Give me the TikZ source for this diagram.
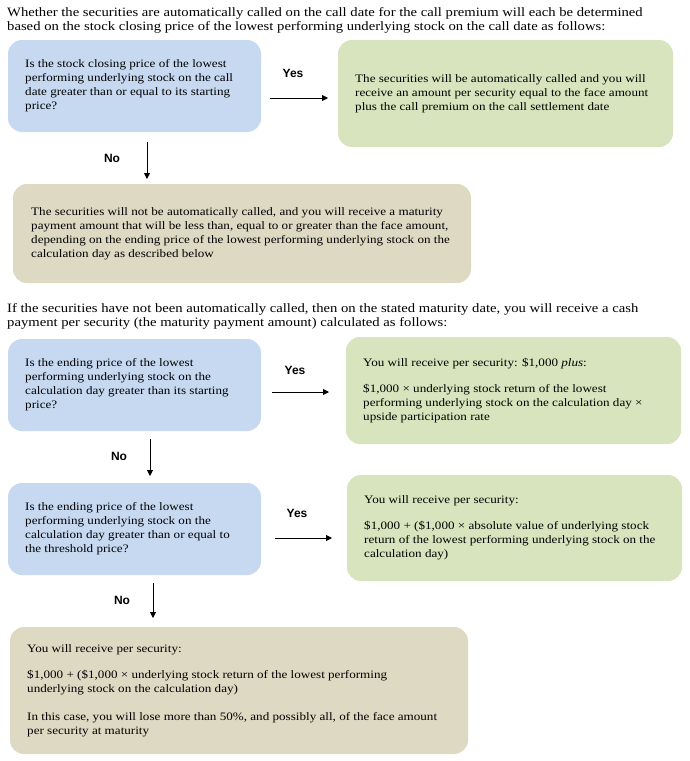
\documentclass[tikz,border=0pt]{standalone}
\usepackage{fontspec}
\setmainfont{Liberation Serif}[FakeStretch=1.15]
\newfontfamily\labelfont{Liberation Sans}
\usetikzlibrary{arrows.meta}
\definecolor{qblue}{RGB}{198,217,241}
\definecolor{agreen}{RGB}{215,228,189}
\definecolor{rtan}{RGB}{221,217,195}
\begin{document}
\begin{tikzpicture}[x=1pt,y=-1pt,
  boxbase/.style={rectangle, rounded corners=14pt, inner sep=0pt, outer sep=0pt, anchor=north west},
  qbox/.style={boxbase, fill=qblue},
  abox/.style={boxbase, fill=agreen},
  rbox/.style={boxbase, fill=rtan},
  boxtext/.style={anchor=west, inner sep=0pt, align=left, font=\fontsize{11.4}{14}\selectfont},
  paratext/.style={anchor=north west, inner sep=0pt, align=left, font=\fontsize{12.75}{14.5}\selectfont},
  lbl/.style={inner sep=0pt, font=\labelfont\bfseries\fontsize{12}{14}\selectfont},
  arr/.style={-{Triangle[length=6pt,width=6pt]}, line width=0.9pt}
]
\useasboundingbox (0,0) rectangle (689,761);
\fill[white] (0,0) rectangle (689,761);

% ---- top paragraph
\node[paratext] (p1) at (7,7) {Whether the securities are automatically called on the call date for the call premium will each be determined\\based on the stock closing price of the lowest performing underlying stock on the call date as follows:};

% ---- first decision
\node[qbox, minimum width=253, minimum height=92] (q1) at (8,40) {};
\node[boxtext] (q1t) at ([xshift=17]q1.west) {Is the stock closing price of the lowest\\performing underlying stock on the call\\date greater than or equal to its starting\\price?};
\node[abox, minimum width=335, minimum height=107] (a1) at (338,40) {};
\node[boxtext] (a1t) at ([xshift=17]a1.west) {The securities will be automatically called and you will\\receive an amount per security equal to the face amount\\plus the call premium on the call settlement date};
\node[rbox, minimum width=458, minimum height=99] (r1) at (13,184) {};
\node[boxtext] (r1t) at ([xshift=18]r1.west) {The securities will not be automatically called, and you will receive a maturity\\payment amount that will be less than, equal to or greater than the face amount,\\depending on the ending price of the lowest performing underlying stock on the\\calculation day as described below};

\coordinate (y1s) at (270,98);
\coordinate (y1e) at (328,98);
\draw[arr] (y1s) -- (y1e);
\node[lbl] (y1) at (293,73) {Yes};
\coordinate (n1s) at (147,142);
\coordinate (n1e) at (147,179);
\draw[arr] (n1s) -- (n1e);
\node[lbl] (n1) at (112,158) {No};

% ---- second paragraph
\node[paratext] (p2) at (7,303) {If the securities have not been automatically called, then on the stated maturity date, you will receive a cash\\payment per security (the maturity payment amount) calculated as follows:};

% ---- second decision
\node[qbox, minimum width=253, minimum height=92] (q2) at (8,339) {};
\node[boxtext] (q2t) at ([xshift=17]q2.west) {Is the ending price of the lowest\\performing underlying stock on the\\calculation day greater than its starting\\price?};
\node[abox, minimum width=335, minimum height=107] (a2) at (346,337) {};
\node[boxtext] (a2t) at ([xshift=17]a2.west) {You will receive per security: \$1,000 \textit{plus}:\\[12pt]\$1,000 × underlying stock return of the lowest\\performing underlying stock on the calculation day ×\\upside participation rate};

\coordinate (y2s) at (272,392);
\coordinate (y2e) at (329,392);
\draw[arr] (y2s) -- (y2e);
\node[lbl] (y2) at (295,370) {Yes};
\coordinate (n2s) at (150,439);
\coordinate (n2e) at (150,476);
\draw[arr] (n2s) -- (n2e);
\node[lbl] (n2) at (119,456) {No};

% ---- third decision
\node[qbox, minimum width=253, minimum height=92] (q3) at (8,483) {};
\node[boxtext] (q3t) at ([xshift=17]q3.west) {Is the ending price of the lowest\\performing underlying stock on the\\calculation day greater than or equal to\\the threshold price?};
\node[abox, minimum width=335, minimum height=106] (a3) at (347,475) {};
\node[boxtext] (a3t) at ([xshift=17]a3.west) {You will receive per security:\\[12pt]\$1,000 + (\$1,000 × absolute value of underlying stock\\return of the lowest performing underlying stock on the\\calculation day)};

\coordinate (y3s) at (275,538);
\coordinate (y3e) at (332,538);
\draw[arr] (y3s) -- (y3e);
\node[lbl] (y3) at (297,513) {Yes};
\coordinate (n3s) at (153,583);
\coordinate (n3e) at (153,618);
\draw[arr] (n3s) -- (n3e);
\node[lbl] (n3) at (122,600) {No};

% ---- final outcome
\node[rbox, minimum width=458, minimum height=127] (r2) at (10,627) {};
\node[boxtext] (r2t) at ([xshift=17]r2.west) {You will receive per security:\\[12pt]\$1,000 + (\$1,000 × underlying stock return of the lowest performing\\underlying stock on the calculation day)\\[14pt]In this case, you will lose more than 50\%, and possibly all, of the face amount\\per security at maturity};
\end{tikzpicture}
\end{document}
